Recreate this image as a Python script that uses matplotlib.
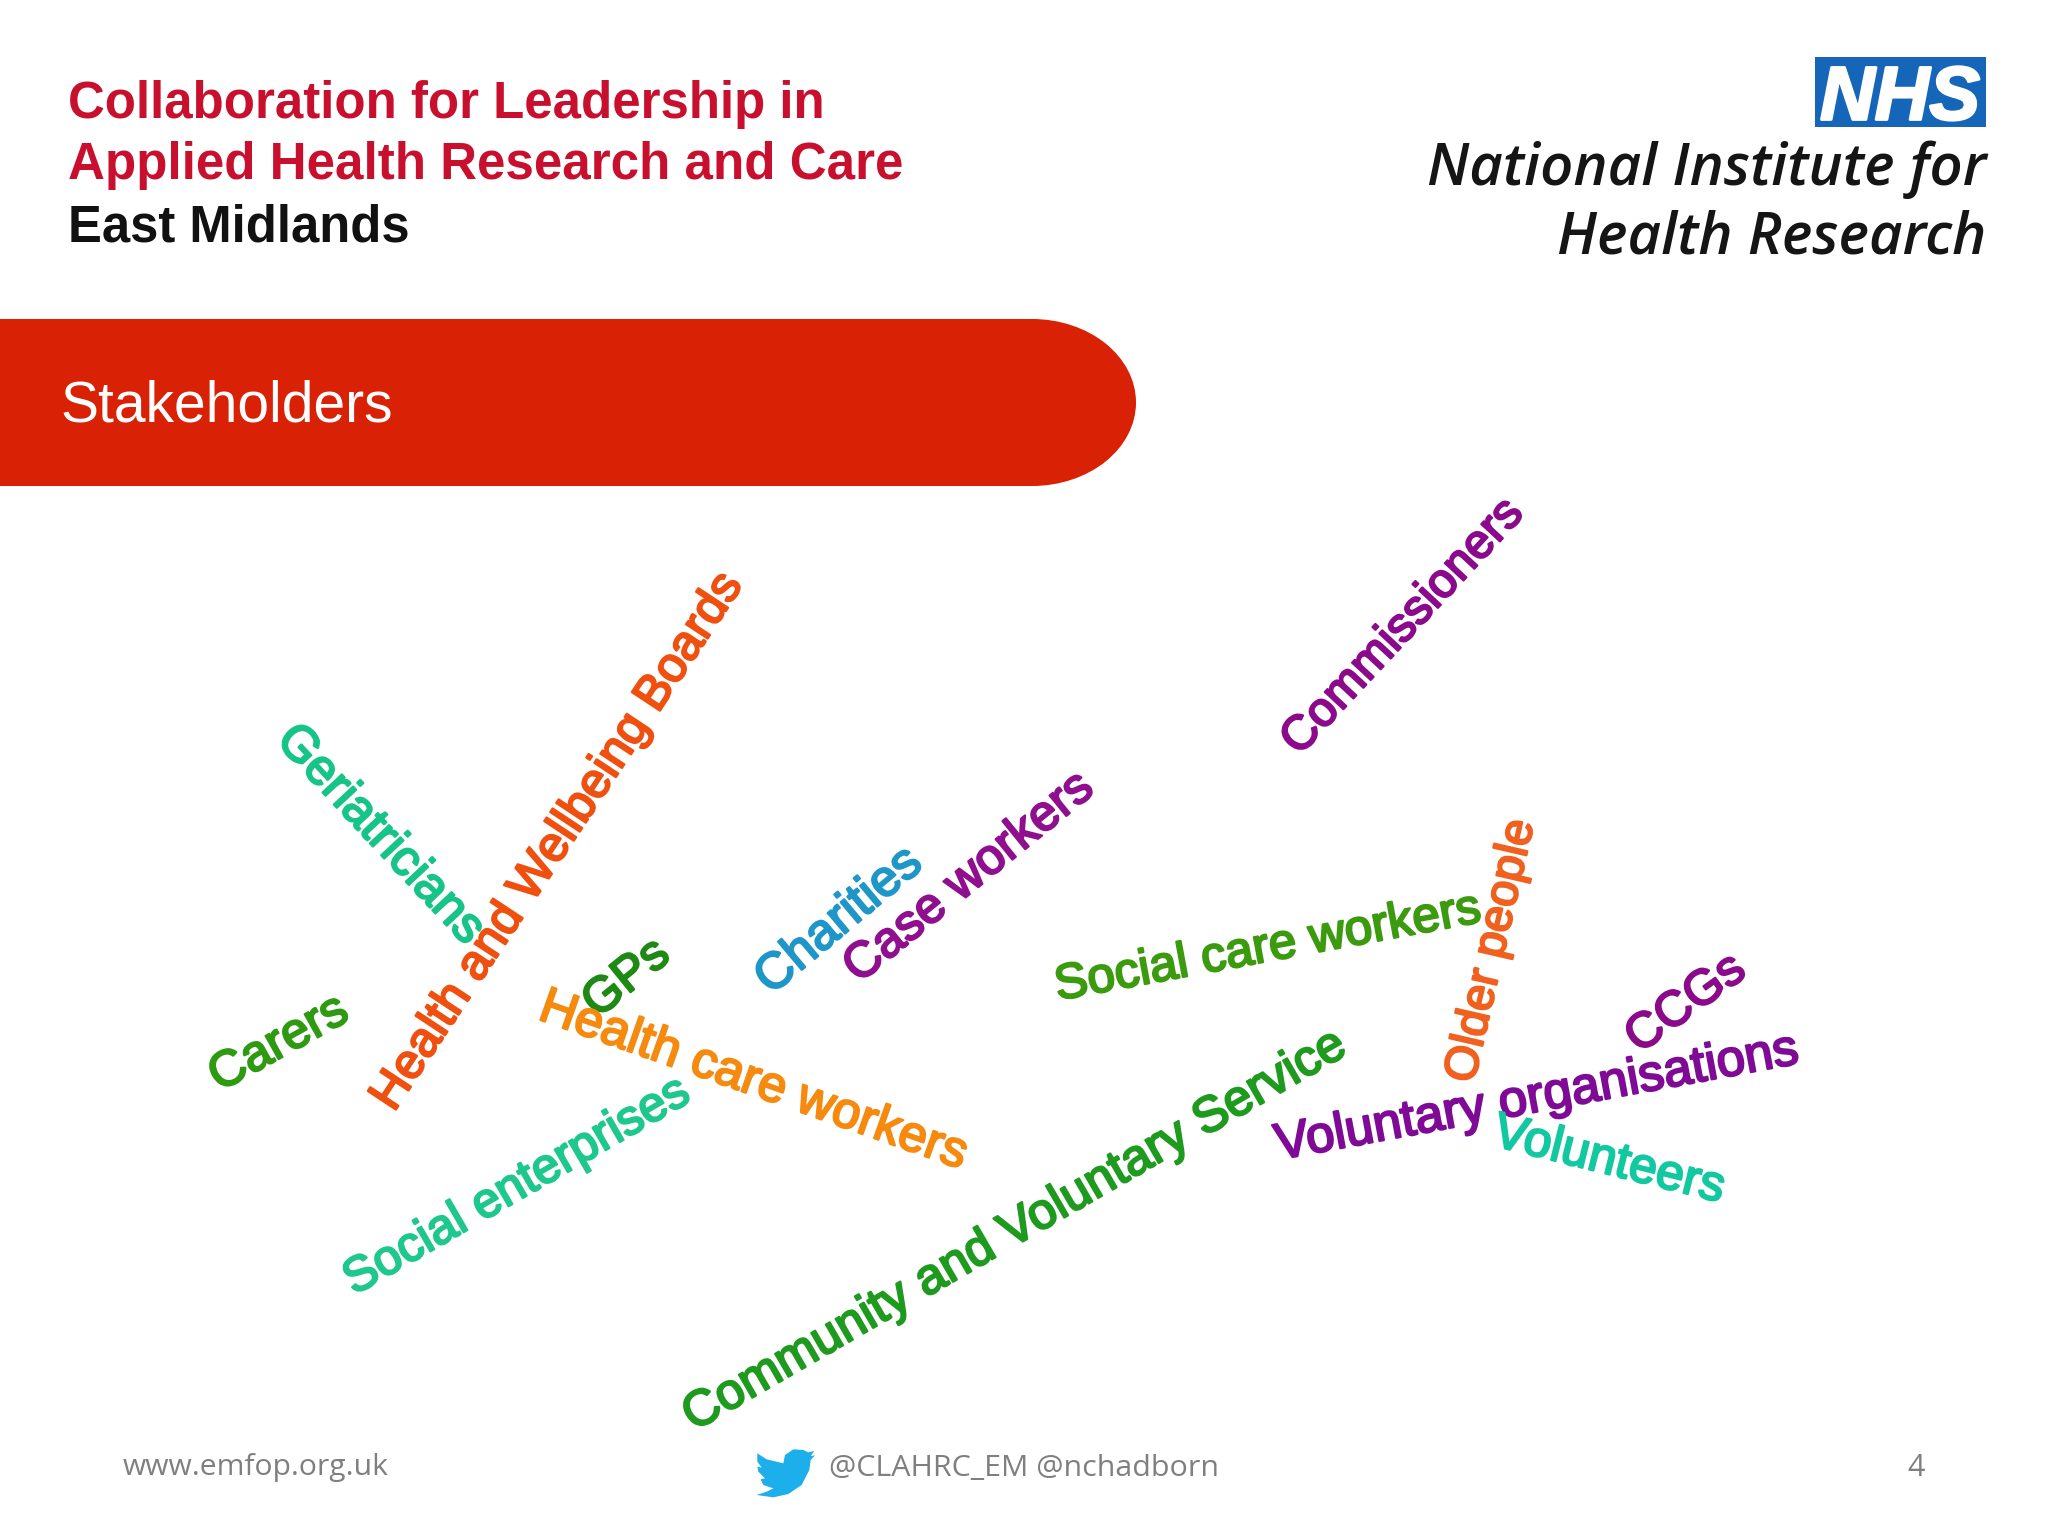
import matplotlib
matplotlib.use('Agg')
import matplotlib.pyplot as plt
import matplotlib.patheffects as pe
from matplotlib.patches import Rectangle, Ellipse, Polygon

words = ['Geriatricians', 'Health and Wellbeing Boards', 'Commissioners', 'Carers', 'GPs',
         'Charities', 'Case workers', 'Social care workers', 'Older people', 'CCGs',
         'Voluntary organisations', 'Volunteers', 'Community and Voluntary Service',
         'Health care workers', 'Social enterprises']
word_colors = ['#17c488', '#f0500f', '#8b0a8b', '#2e9a12', '#1e8a14',
               '#1e96c8', '#8f0f8f', '#3c9a0e', '#f0601e', '#8a0a8a',
               '#7e0a96', '#12c8a0', '#1e9a1e', '#f58a0f', '#1ec88c']
word_x = [380, 558, 1403, 279, 627, 839, 969, 1268, 1492, 1686, 1537, 1609, 1015, 753, 517]
word_y = [835, 842, 627, 1044, 979, 921, 878, 948, 951, 1004, 1098, 1161, 1231, 1081, 1187]
word_angle = [-47, 56.5, 47, 29, 39, 40, 39, 10.5, 77, 36, 10.5, -14, 30, -19.5, 30]
word_len = [280, 632, 330, 151, 96, 200, 305, 432, 268, 135, 530, 236, 756, 450, 390]

header_red = ['Collaboration for Leadership in', 'Applied Health Research and Care']
header_black = 'East Midlands'
nihr_lines = ['National Institute for', 'Health Research']
title = 'Stakeholders'
footer_site = 'www.emfop.org.uk'
footer_handles = '@CLAHRC_EM @nchadborn'
page_no = '4'

fig = plt.figure(figsize=(20.48, 15.36), dpi=100, facecolor='white')
ax = fig.add_axes([0, 0, 1, 1])
ax.set_xlim(0, 2048)
ax.set_ylim(1536, 0)
ax.axis('off')
renderer = fig.canvas.get_renderer()


def fit(t, width):
    # scale font so the unrotated text is the wanted width in pixels
    rot = t.get_rotation()
    t.set_rotation(0)
    w = t.get_window_extent(renderer).width
    t.set_fontsize(t.get_fontsize() * width / w)
    t.set_rotation(rot)


sans = 'Liberation Sans'

# header left
t = ax.text(68, 118, header_red[0], color='#c8102e', family=sans, weight='bold', fontsize=30, va='baseline')
fit(t, 757)
t = ax.text(68, 179, header_red[1], color='#c8102e', family=sans, weight='bold', fontsize=30, va='baseline')
fit(t, 836)
t = ax.text(68, 241, header_black, color='#111111', family=sans, weight='bold', fontsize=30, va='baseline')
fit(t, 342)

# NHS logo
ax.add_patch(Rectangle((1815, 57), 171, 70, color='#1565b8', lw=0))
t = ax.text(1900, 92, 'NHS', color='white', family=sans, weight='bold', style='italic', fontsize=50,
            ha='center', va='center_baseline')
fit(t, 160)
t.set_path_effects([pe.withStroke(linewidth=2, foreground='white')])
t = ax.text(1986, 185, nihr_lines[0], color='#151515', family='Open Sans', weight='semibold', style='italic',
            fontsize=30, ha='right', va='baseline')
fit(t, 559)
t = ax.text(1986, 253, nihr_lines[1], color='#151515', family='Open Sans', weight='semibold', style='italic',
            fontsize=30, ha='right', va='baseline')
fit(t, 429)

# title banner
ax.add_patch(Rectangle((0, 319), 1032, 167, color='#d92106', lw=0))
ax.add_patch(Ellipse((1032, 402.5), 208, 167, color='#d92106', lw=0))
t = ax.text(60, 422, title, color='white', family=sans, fontsize=30, va='baseline')
fit(t, 332)

# word cloud, regular weight thickened with a thin stroke
for w, c, x, y, a, l in zip(words, word_colors, word_x, word_y, word_angle, word_len):
    t = ax.text(x, y, w, color=c, family=sans, fontsize=30, rotation=a,
                rotation_mode='anchor', ha='center', va='center')
    fit(t, l)
    t.set_path_effects([pe.withStroke(linewidth=1.6, foreground=c)])

# footer
t = ax.text(123, 1468, footer_site, color='#7f7f7f', family='Open Sans', fontsize=20, va='center')
fit(t, 265)
t = ax.text(829, 1468, footer_handles, color='#7f7f7f', family='Open Sans', fontsize=20, va='center')
fit(t, 389)
ax.text(1916, 1468, page_no, color='#7f7f7f', family='Open Sans', fontsize=22, ha='center', va='center')

# twitter bird
bird = [(112, 100), (140, 118), (190, 130), (195, 105), (220, 88), (250, 90), (265, 97), (283, 93),
        (272, 108), (285, 106), (272, 120), (268, 150), (245, 195), (205, 222), (160, 232), (110, 225),
        (140, 215), (160, 205), (130, 195), (122, 178), (135, 175), (115, 155), (112, 140), (125, 143),
        (112, 125)]
ax.add_patch(Polygon([(720 + px / 3, 1420 + py / 3) for px, py in bird], closed=True, color='#1daeec', lw=0))

fig.savefig('out.png', dpi=100, facecolor='white')
